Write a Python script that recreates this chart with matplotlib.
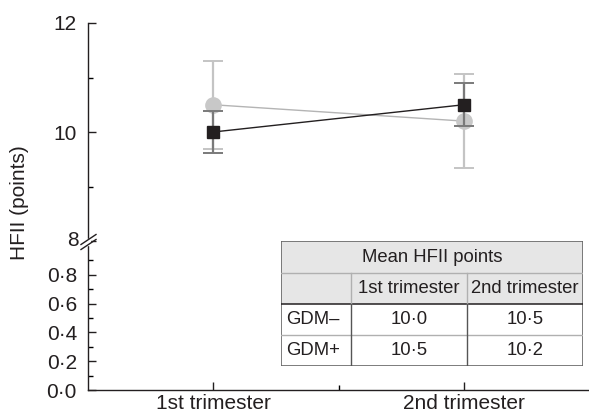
import numpy as np
import matplotlib
matplotlib.use('Agg')
import matplotlib.pyplot as plt
from matplotlib.ticker import FixedLocator

plt.rcParams['font.family'] = ['Liberation Sans', 'DejaVu Sans']

# Datos
trimesters = ['1st trimester', '2nd trimester']
groups = ['GDM–', 'GDM+']
gdm_neg_mean = [10.0, 10.5]
gdm_neg_err = [0.38, 0.39]
gdm_pos_mean = [10.5, 10.2]
gdm_pos_err = [0.81, 0.86]
table_title = 'Mean HFII points'
ylabel = 'HFII (points)'

ink = '#231f20'
x = np.arange(1, len(trimesters) + 1)

fig = plt.figure(figsize=(5.89, 4.16), dpi=100)
W, H = 589, 416

def box(x0, y0, x1, y1):
    # pixel box (top-left origin) -> figure fraction
    return [x0 / W, (H - y1) / H, (x1 - x0) / W, (y1 - y0) / H]

ax_top = fig.add_axes(box(88, 23, 589, 241))
ax_bot = fig.add_axes(box(88, 246, 589, 390), sharex=ax_top)

# series (grey first, black on top)
ax_top.errorbar(x, gdm_pos_mean, yerr=gdm_pos_err, color='#b4b4b4', lw=1,
                marker='o', ms=11, mfc='#c8c8c8', mec='#c8c8c8',
                ecolor='#c4c4c4', elinewidth=1.6, capsize=7.5, capthick=1.4, zorder=2)
ax_top.errorbar(x, gdm_neg_mean, yerr=gdm_neg_err, color=ink, lw=1,
                marker='s', ms=9, mfc=ink, mec=ink,
                ecolor='#7a7a7a', elinewidth=1.6, capsize=7.5, capthick=1.4, zorder=3)

# top axis
ax_top.set_ylim(8, 12)
ax_top.set_xlim(0.5, 2.5)
ax_top.yaxis.set_major_locator(FixedLocator([8, 10, 12]))
ax_top.yaxis.set_minor_locator(FixedLocator([9, 11]))
ax_top.set_yticklabels(['', '10', '12'])
for s in ['top', 'right', 'bottom']:
    ax_top.spines[s].set_visible(False)
ax_top.tick_params(axis='x', which='both', bottom=False, labelbottom=False)
ax_top.tick_params(axis='y', which='major', direction='in', length=6, width=1,
                   labelsize=15, colors=ink, pad=8)
ax_top.tick_params(axis='y', which='minor', direction='in', length=3.5, width=1)
ax_top.patch.set_alpha(0)

# bottom axis
ax_bot.set_ylim(0, 1.0)
ax_bot.yaxis.set_major_locator(FixedLocator([0, 0.2, 0.4, 0.6, 0.8]))
ax_bot.yaxis.set_minor_locator(FixedLocator([0.1, 0.3, 0.5, 0.7, 0.9]))
ax_bot.set_yticklabels([f'{v:.1f}'.replace('.', '·') for v in [0, 0.2, 0.4, 0.6, 0.8]])
ax_bot.set_xticks(x)
ax_bot.set_xticklabels(trimesters)
ax_bot.xaxis.set_minor_locator(FixedLocator([1.5]))
for s in ['top', 'right']:
    ax_bot.spines[s].set_visible(False)
ax_bot.tick_params(which='major', direction='in', length=6, width=1,
                   labelsize=15, colors=ink, pad=8)
ax_bot.tick_params(axis='x', which='major', pad=3)
ax_bot.tick_params(which='minor', direction='in', length=3.5, width=1)
ax_bot.patch.set_alpha(0)
for a in (ax_top, ax_bot):
    for s in a.spines.values():
        s.set_color(ink)
        s.set_linewidth(1)

# "8" label at the break and break marks
fig.text(79 / W, (H - 241) / H, '8', ha='right', va='center', fontsize=15, color=ink)
fig.add_artist(plt.Rectangle((86 / W, (H - 245) / H), 4 / W, 6 / H,
                             color='white', zorder=1, transform=fig.transFigure))
for dy in (-2.5, 2.5):
    fig.add_artist(plt.Line2D([81 / W, 96 / W], [(H - 247 - dy) / H, (H - 237 - dy) / H],
                              color=ink, lw=1, zorder=2))

fig.text(20 / W, (H - 203) / H, ylabel, rotation=90, ha='center', va='center',
         fontsize=15, color=ink)

# table
tab = fig.add_axes(box(281, 241, 583, 366))
tab.set_xlim(0, 302)
tab.set_ylim(125, 0)
tab.axis('off')
cx = [0, 69.5, 186, 302]
ry = [0, 32, 63, 94, 125]
tab.add_patch(plt.Rectangle((0, 0), 302, 63, color='#e6e6e6', lw=0))
light = '#b0b0b0'
dark = '#555555'
tab.plot([0, 302], [ry[1]] * 2, color=light, lw=1)
tab.plot([0, 302], [ry[3]] * 2, color=light, lw=1)
tab.plot([0, 302], [ry[2]] * 2, color=ink, lw=1.1)
for c in cx[1:3]:
    tab.plot([c, c], [ry[1], ry[2]], color=light, lw=1)
    tab.plot([c, c], [ry[2], ry[4]], color=dark, lw=1)
tab.add_patch(plt.Rectangle((0, 0), 302, 125, fill=False, ec='#666666', lw=1.2))

fs = 13.3
tab.text(151, 16, table_title, ha='center', va='center', fontsize=fs, color=ink)
for j, t in enumerate(trimesters):
    tab.text((cx[j + 1] + cx[j + 2]) / 2, 47.5, t, ha='center', va='center',
             fontsize=fs, color=ink)
for i, (g, vals) in enumerate(zip(groups, [gdm_neg_mean, gdm_pos_mean])):
    yc = (ry[i + 2] + ry[i + 3]) / 2
    tab.text(5, yc, g, ha='left', va='center', fontsize=fs, color=ink)
    for j, v in enumerate(vals):
        tab.text((cx[j + 1] + cx[j + 2]) / 2, yc, f'{v:.1f}'.replace('.', '·'),
                 ha='center', va='center', fontsize=fs, color=ink)

fig.savefig('out.png', dpi=100)
